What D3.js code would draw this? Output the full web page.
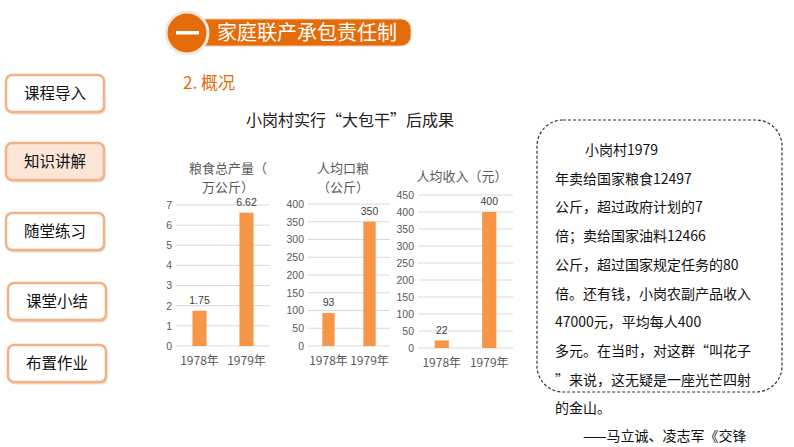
<!DOCTYPE html>
<html>
<head>
<meta charset="utf-8">
<script src="https://cdn.jsdelivr.net/npm/d3@7"></script>
<style>
  body { margin: 0; background: #fff; }
  svg { display: block; }
</style>
</head>
<body>
<svg id="slide" width="794" height="447"></svg>
<script>
// data
var years = ["1978年", "1979年"];
var grainTotal = [1.75, 6.62];      // 万公斤
var grainPerHead = [93, 350];       // 公斤
var incomePerHead = [22, 400];      // 元
var navItems = ["课程导入", "知识讲解", "随堂练习", "课堂小结", "布置作业"];
var noteLines = [
  "小岗村1979",
  "年卖给国家粮食12497",
  "公斤，超过政府计划的7",
  "倍；卖给国家油料12466",
  "公斤，超过国家规定任务的80",
  "倍。还有钱，小岗农副产品收入",
  "47000元，平均每人400",
  "多元。在当时，对这群“叫花子",
  "”来说，这无疑是一座光芒四射",
  "的金山。"
];

var cjk = "'Noto Sans CJK SC', 'Liberation Sans', sans-serif";
var latin = "'Liberation Sans', Arial, sans-serif";
var orange = "#F79646";
var svg = d3.select("#slide");

//Header pill with the big circle
var head = svg.append("g");
head.append("rect")
    .attr("x", 195).attr("y", 19).attr("width", 216).attr("height", 27)
    .attr("rx", 10)
    .style("fill", "#E46C0A").style("stroke", "#F2C9A5").style("stroke-width", 1);
head.append("circle")
    .attr("cx", 187).attr("cy", 33).attr("r", 21)
    .style("fill", "#E46C0A").style("stroke", "#F3E9E0").style("stroke-width", 3);
head.append("rect")
    .attr("x", 176).attr("y", 31).attr("width", 23).attr("height", 3.5)
    .style("fill", "#fff");
head.append("text")
    .attr("x", 217).attr("y", 40)
    .style("font-family", cjk).style("font-size", "20px").style("fill", "#fff")
    .text("家庭联产承包责任制");

svg.append("text")
    .attr("x", 183).attr("y", 89)
    .style("font-family", cjk).style("font-size", "17px").style("fill", "#E46C0A")
    .text("2. 概况");

//Left navigation buttons
var navY = [75, 143, 213, 283, 345];
var nav = svg.selectAll(".nav")
  .data(navItems)
  .enter().append("g")
    .attr("class", "nav")
    .attr("transform", function (d, i) { return "translate(" + (i > 2 ? 8 : 6) + "," + navY[i] + ")"; });
nav.append("rect")
    .attr("x", 1.5).attr("y", 1.5).attr("width", 98).attr("height", 38).attr("rx", 6)
    .style("fill", "#d9b89a").style("opacity", 0.5);
nav.append("rect")
    .attr("width", 98).attr("height", 37).attr("rx", 6)
    .style("fill", function (d, i) { return i == 1 ? "#FBE5D6" : "#fff"; })
    .style("stroke", "#F4B183").style("stroke-width", 2.5);
nav.append("text")
    .attr("x", 49).attr("y", 24)
    .attr("text-anchor", "middle")
    .style("font-family", cjk).style("font-size", "15.5px").style("fill", "#111")
    .text(function (d) { return d; });

//Main title
svg.append("text")
    .attr("x", 350).attr("y", 126)
    .attr("text-anchor", "middle")
    .style("font-family", cjk).style("font-size", "16px").style("fill", "#222")
    .text("小岗村实行“大包干”后成果");

//One small bar chart
function barChart(opt) {
  var g = svg.append("g");
  var y = d3.scaleLinear().domain([0, opt.max]).range([opt.bottom, opt.top]);
  var x = d3.scaleBand().domain(years).range([opt.left, opt.right]).paddingInner(0.7).paddingOuter(0.35);

  var ticks = d3.range(0, opt.max + opt.step / 2, opt.step);
  g.selectAll(".grid")
    .data(ticks)
    .enter().append("line")
      .attr("x1", opt.left).attr("x2", opt.right)
      .attr("y1", function (d) { return y(d); }).attr("y2", function (d) { return y(d); })
      .style("stroke", "#D9D9D9").style("stroke-width", 1);

  var yAxis = g.append("g")
      .attr("transform", "translate(" + (opt.left - 4) + ",0)")
      .call(d3.axisLeft(y).tickValues(ticks).tickFormat(d3.format("d")).tickSize(0).tickPadding(0));
  yAxis.select(".domain").remove();
  yAxis.selectAll("text")
      .style("font-family", latin).style("font-size", "10.5px").style("fill", "#595959");

  var xAxis = g.append("g")
      .attr("transform", "translate(0," + opt.bottom + ")")
      .call(d3.axisBottom(x).tickSize(0).tickPadding(10));
  xAxis.select(".domain").remove();
  xAxis.selectAll("text")
      .style("font-family", cjk).style("font-size", "12px").style("fill", "#595959");

  g.selectAll(".bar")
    .data(opt.values)
    .enter().append("rect")
      .attr("x", function (d, i) { return x(years[i]); })
      .attr("width", x.bandwidth())
      .attr("y", function (d) { return y(d); })
      .attr("height", function (d) { return opt.bottom - y(d); })
      .style("fill", orange);

  g.selectAll(".val")
    .data(opt.values)
    .enter().append("text")
      .attr("x", function (d, i) { return x(years[i]) + x.bandwidth() / 2; })
      .attr("y", function (d) { return y(d) - 7; })
      .attr("text-anchor", "middle")
      .style("font-family", latin).style("font-size", "10.5px").style("fill", "#404040")
      .text(function (d) { return d; });

  //Title, one text with a tspan per line
  g.append("text")
      .attr("text-anchor", "middle")
      .style("font-family", cjk).style("font-size", "13px").style("fill", "#595959")
    .selectAll("tspan")
    .data(opt.title)
    .enter().append("tspan")
      .attr("x", opt.titleX)
      .attr("y", function (d, i) { return opt.titleY + i * 18.5; })
      .text(function (d) { return d; });
}

barChart({ values: grainTotal, max: 7, step: 1, left: 176, right: 270, top: 205, bottom: 346,
  title: ["粮食总产量（", "万公斤）"], titleX: 228, titleY: 173 });
barChart({ values: grainPerHead, max: 400, step: 50, left: 308, right: 390, top: 204, bottom: 346,
  title: ["人均口粮", "（公斤）"], titleX: 343, titleY: 173 });
barChart({ values: incomePerHead, max: 450, step: 50, left: 418, right: 513, top: 195, bottom: 348,
  title: ["人均收入（元）"], titleX: 462, titleY: 181 });

//Quotation box
svg.append("rect")
    .attr("x", 537).attr("y", 120).attr("width", 245).attr("height", 272).attr("rx", 26)
    .style("fill", "none").style("stroke", "#333").style("stroke-width", 1.2)
    .style("stroke-dasharray", "3,2");

svg.selectAll(".note")
  .data(noteLines)
  .enter().append("text")
    .attr("x", function (d, i) { return i == 0 ? 585 : 555; })
    .attr("y", function (d, i) { return 155 + i * 28.7; })
    .style("font-family", cjk).style("font-size", "14px").style("fill", "#111")
    .text(function (d) { return d; });

svg.append("text")
    .attr("x", 583).attr("y", 441)
    .style("font-family", cjk).style("font-size", "14px").style("fill", "#111")
    .text("——马立诚、凌志军《交锋");
</script>
</body>
</html>
